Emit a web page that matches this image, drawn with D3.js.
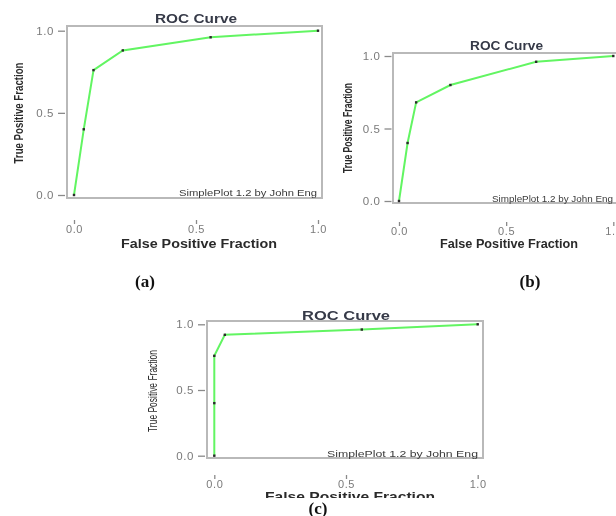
<!DOCTYPE html>
<html>
<head>
<meta charset="utf-8">
<script src="https://cdn.jsdelivr.net/npm/d3@7"></script>
<style>
  body { margin: 0; background: #fff; }
  svg { display: block; filter: blur(0.35px); }
</style>
</head>
<body>
<div id="chart"></div>
<script>
// ROC points
var fprA = [0, 0.04, 0.08, 0.20, 0.56, 1.0];
var tprA = [0, 0.40, 0.76, 0.88, 0.96, 1.0];
var fprB = [0, 0.04, 0.08, 0.24, 0.64, 1.0];
var tprB = [0, 0.40, 0.68, 0.80, 0.96, 1.0];
var fprC = [0, 0, 0, 0.04, 0.56, 1.0];
var tprC = [0, 0.40, 0.76, 0.92, 0.96, 1.0];

var ticks = [0, 0.5, 1.0];
var panelNames = ["(a)", "(b)", "(c)"];
var titleText = "ROC Curve";
var xTitle = "False Positive Fraction";
var yTitle = "True Positive Fraction";
var credit = "SimplePlot 1.2 by John Eng";

// where each sub plot sits in the 616x516 picture
var layout = [
  {xr: [74, 318], yr: [195, 30.7], box: [67, 26, 322, 198],
   title: [196, 18, 82], xlab: [199, 243.5, 156], ylab: [18.5, 113, 101, true],
   credit: [317, 193, 138], xTickY: 220, yTickX: 65, name: [145, 281], clipB: 516},
  {xr: [399, 613.3], yr: [201, 56], box: [393, 53, 618, 203],
   title: [506.5, 45, 73], xlab: [509, 244, 138], ylab: [348, 128, 90, true],
   credit: [613, 199, 121], xTickY: 222, yTickX: 391.5, name: [530, 281], clipB: 516},
  {xr: [214.3, 477.7], yr: [455.7, 324.3], box: [207, 321, 483, 458],
   title: [346, 315, 88], xlab: [350, 497, 170], ylab: [153, 391, 82, false],
   credit: [478, 454, 151], xTickY: 475, yTickX: 205, name: [318, 508], clipB: 498}
];

var series = [[fprA, tprA], [fprB, tprB], [fprC, tprC]];

var svg = d3.select("#chart")
  .append("svg")
    .attr("width", 616)
    .attr("height", 516);

var fmt = d3.format(".1f");

series.forEach(function(s, i) {
  var L = layout[i];
  var pts = d3.zip(s[0], s[1]);

  svg.append("clipPath").attr("id", "clip" + i)
    .append("rect").attr("x", 0).attr("y", 0).attr("width", 616).attr("height", L.clipB);

  var g = svg.append("g").attr("clip-path", "url(#clip" + i + ")");

  var x = d3.scaleLinear().domain([0, 1]).range(L.xr);
  var y = d3.scaleLinear().domain([0, 1]).range(L.yr);

  // plot frame
  g.append("rect")
    .attr("x", L.box[0]).attr("y", L.box[1])
    .attr("width", L.box[2] - L.box[0]).attr("height", L.box[3] - L.box[1])
    .style("fill", "none").style("stroke", "#b9b9b9").style("stroke-width", 2);

  // y axis
  var ya = g.append("g")
    .attr("transform", "translate(" + L.yTickX + ",0)")
    .call(d3.axisLeft(y).tickValues(ticks).tickFormat(fmt).tickSize(7).tickPadding(4));
  ya.select(".domain").remove();
  ya.selectAll("line").style("stroke", "#8a8a8a").style("stroke-width", 1.3);
  ya.selectAll("text").style("fill", "#7a7a7a").style("font-family", "Arial, 'Liberation Sans', sans-serif")
    .style("font-size", "11.5px").style("letter-spacing", "0.6px");

  // x axis (labels sit below the frame with a small mark above each)
  var xa = g.append("g")
    .attr("transform", "translate(0," + L.xTickY + ")")
    .call(d3.axisBottom(x).tickValues(ticks).tickFormat(fmt).tickSize(4).tickPadding(1));
  xa.select(".domain").remove();
  xa.selectAll("line").style("stroke", "#8a8a8a").style("stroke-width", 1.3);
  xa.selectAll("text").style("fill", "#7a7a7a").style("font-family", "Arial, 'Liberation Sans', sans-serif")
    .style("font-size", "11px").style("letter-spacing", "0.6px");

  // curve
  var line = d3.line()
    .x(function(d) { return x(d[0]); })
    .y(function(d) { return y(d[1]); });
  g.append("path")
    .datum(pts)
    .attr("d", line)
    .style("fill", "none")
    .style("stroke", "#62f562")
    .style("stroke-width", 2);

  g.selectAll("myDots")
    .data(pts)
    .enter()
    .append("rect")
      .attr("x", function(d) { return x(d[0]) - 1.2; })
      .attr("y", function(d) { return y(d[1]) - 1.2; })
      .attr("width", 2.4).attr("height", 2.4)
      .style("fill", "#2a2a2a");

  // texts
  g.append("text")
    .attr("x", L.title[0]).attr("y", L.title[1])
    .attr("text-anchor", "middle").attr("dominant-baseline", "central")
    .attr("textLength", L.title[2]).attr("lengthAdjust", "spacingAndGlyphs")
    .style("font-family", "Arial, 'Liberation Sans', sans-serif").style("font-weight", "bold")
    .style("font-size", "13px").style("fill", "#363a48")
    .text(titleText);

  g.append("text")
    .attr("x", L.xlab[0]).attr("y", L.xlab[1])
    .attr("text-anchor", "middle").attr("dominant-baseline", "central")
    .attr("textLength", L.xlab[2]).attr("lengthAdjust", "spacingAndGlyphs")
    .style("font-family", "Arial, 'Liberation Sans', sans-serif").style("font-weight", "bold")
    .style("font-size", "12px").style("fill", "#2a2a2a")
    .text(xTitle);

  g.append("text")
    .attr("transform", "translate(" + L.ylab[0] + "," + L.ylab[1] + ") rotate(-90)")
    .attr("text-anchor", "middle").attr("dominant-baseline", "central")
    .attr("textLength", L.ylab[2]).attr("lengthAdjust", "spacingAndGlyphs")
    .style("font-family", "'Liberation Sans Narrow', Arial, sans-serif")
    .style("font-weight", L.ylab[3] ? "bold" : "normal")
    .style("font-size", "12px").style("fill", "#2a2a2a")
    .text(yTitle);

  g.append("text")
    .attr("x", L.credit[0]).attr("y", L.credit[1])
    .attr("text-anchor", "end").attr("dominant-baseline", "central")
    .attr("textLength", L.credit[2]).attr("lengthAdjust", "spacingAndGlyphs")
    .style("font-family", "Arial, 'Liberation Sans', sans-serif")
    .style("font-size", "9px").style("fill", "#3a3a3a")
    .text(credit);

  svg.append("text")
    .attr("x", L.name[0]).attr("y", L.name[1])
    .attr("text-anchor", "middle").attr("dominant-baseline", "central")
    .style("font-family", "'Liberation Serif', 'Times New Roman', serif").style("font-weight", "bold")
    .style("font-size", "17px").style("fill", "#111")
    .text(panelNames[i]);
});
</script>
</body>
</html>
